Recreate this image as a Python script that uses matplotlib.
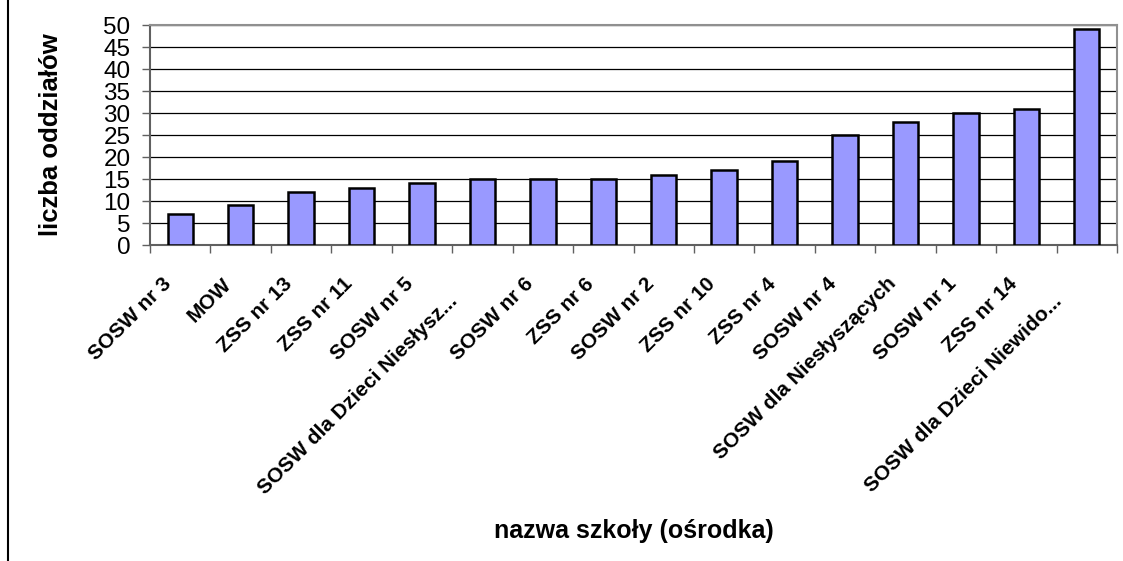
import matplotlib
matplotlib.use("Agg")
import matplotlib.pyplot as plt
from matplotlib.lines import Line2D
from matplotlib.transforms import ScaledTranslation
import numpy as np

categories = ["SOSW nr 3", "MOW", "ZSS nr 13", "ZSS nr 11", "SOSW nr 5",
              "SOSW dla Dzieci Niesłysz...", "SOSW nr 6", "ZSS nr 6", "SOSW nr 2",
              "ZSS nr 10", "ZSS nr 4", "SOSW nr 4", "SOSW dla Niesłyszących",
              "SOSW nr 1", "ZSS nr 14", "SOSW dla Dzieci Niewido..."]
values = [7, 9, 12, 13, 14, 15, 15, 15, 16, 17, 19, 25, 28, 30, 31, 49]
yticks = [0, 5, 10, 15, 20, 25, 30, 35, 40, 45, 50]

plt.rcParams['font.family'] = ['Liberation Sans', 'DejaVu Sans']

W, H = 1123, 561
fig = plt.figure(figsize=(W / 100, H / 100), dpi=100)
ax = fig.add_axes([150 / W, 1 - 245 / H, (1117 - 150) / W, (245 - 25) / H])

x = np.arange(len(categories))
ax.bar(x, values, width=0.42, color='#9999FF', edgecolor='black', linewidth=1.8, zorder=3)

ax.set_xlim(-0.5, len(categories) - 0.5)
ax.set_ylim(0, 50)
ax.set_yticks(yticks)
ax.set_yticklabels([str(v) for v in yticks], fontsize=17.5)
ax.yaxis.grid(True, color='black', linewidth=0.9, zorder=0)
ax.set_axisbelow(True)

ax.set_xticks(np.arange(len(categories) + 1) - 0.5, minor=False)
ax.set_xticklabels([])
ax.tick_params(axis='x', length=5.5, width=1, color='#606060', direction='out')
ax.tick_params(axis='y', length=6, width=1, color='#606060', direction='out', pad=8)
ax.set_xticks(x, minor=True)
ax.set_xticklabels(categories, minor=True, rotation=45, ha='right', va='center',
                   rotation_mode='anchor', fontsize=15, fontweight='bold')
ax.tick_params(axis='x', which='minor', length=0, pad=28)
for lab in ax.get_xticklabels(minor=True):
    dx, dy = -12, 3
    if lab.get_text().endswith('...'):
        dx, dy = -28, -14
    lab.set_transform(lab.get_transform() +
                      ScaledTranslation(dx / 100, dy / 100, fig.dpi_scale_trans))

for s in ['top', 'right']:
    ax.spines[s].set_color('#909090')
    ax.spines[s].set_linewidth(1.5)
for s in ['left', 'bottom']:
    ax.spines[s].set_color('#606060')
    ax.spines[s].set_linewidth(1.5)

fig.text(51 / W, 1 - 135 / H, 'liczba oddziałów', rotation=90, ha='center', va='center',
         fontsize=18.5, fontweight='bold')
fig.text(634 / W, 1 - 531 / H, 'nazwa szkoły (ośrodka)', ha='center', va='center',
         fontsize=18, fontweight='bold')

fig.add_artist(Line2D([7.5 / W, 7.5 / W], [0, 1], color='black', linewidth=1.5))

fig.savefig('out.png', dpi=100)
